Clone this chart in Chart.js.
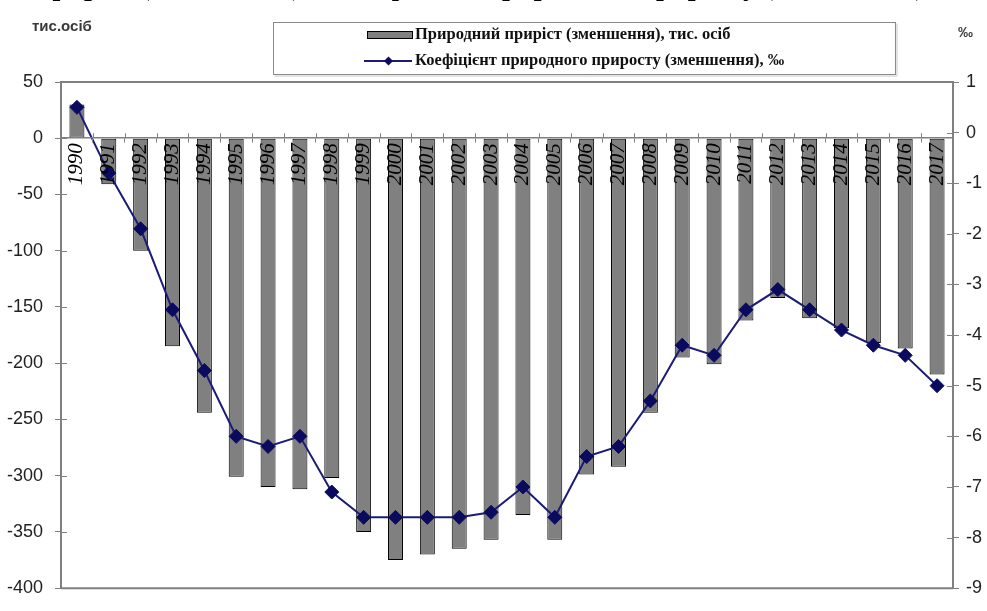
<!DOCTYPE html>
<html>
<head>
<meta charset="utf-8">
<script src="https://cdn.jsdelivr.net/npm/chart.js@4.4.1/dist/chart.umd.min.js"></script>
<style>
html,body{margin:0;padding:0;background:#fff;overflow:hidden}
#wrap{width:987px;height:611px;position:relative}
</style>
</head>
<body>
<div id="wrap"><canvas id="c" width="987" height="611"></canvas></div>
<script>
// ---- data ----
const years = ['1990','1991','1992','1993','1994','1995','1996','1997','1998','1999','2000','2001','2002','2003','2004','2005','2006','2007','2008','2009','2010','2011','2012','2013','2014','2015','2016','2017'];
const naturalIncrease = [30,-41,-100,-185,-244,-301,-310,-312,-302,-350,-375,-370,-365,-357,-335,-357,-299,-292,-244,-195,-201,-162,-142,-160,-169,-182,-187,-210];
const increaseRate = [0.5,-0.8,-1.9,-3.5,-4.7,-6.0,-6.2,-6.0,-7.1,-7.6,-7.6,-7.6,-7.6,-7.5,-7.0,-7.6,-6.4,-6.2,-5.3,-4.2,-4.4,-3.5,-3.1,-3.5,-3.9,-4.2,-4.4,-5.0];
const leftAxisRange = [-400, 50];   // min, max
const leftAxisStep = 50;
const rightAxisRange = [-9, 1];
const rightAxisStep = 1;
const seriesNames = ['Природний приріст (зменшення), тис. осіб', 'Коефіцієнт природного приросту (зменшення), ‰'];
const titleText = 'Природний приріст (зменшення) та коефіцієнт природного приросту (зменшення) населення';
const leftUnit = 'тис.осіб';
const rightUnit = '‰';

const AXIS_GRAY = '#808080';
const LINE_BLUE = '#1c1c78';
const MARK_BLUE = '#0a0a5e';

// ---- decorations: frame, crossing ticks, title, units, legend ----
const decor = {
  id: 'decor',
  beforeDatasetsDraw(chart) {
    const {ctx, chartArea: a} = chart;
    ctx.save();
    ctx.strokeStyle = AXIS_GRAY;
    ctx.lineWidth = 2;
    ctx.beginPath();
    ctx.moveTo(a.left, a.top); ctx.lineTo(a.right, a.top);
    ctx.moveTo(a.left, a.bottom); ctx.lineTo(a.right, a.bottom);
    ctx.stroke();
    // inner halves of axis ticks
    ctx.lineWidth = 1;
    const y = chart.scales.y, y1 = chart.scales.y1;
    ctx.beginPath();
    y.ticks.forEach(t => { const p = Math.round(y.getPixelForValue(t.value)) + 0.5; ctx.moveTo(a.left, p); ctx.lineTo(a.left + 6, p); });
    y1.ticks.forEach(t => { const p = Math.round(y1.getPixelForValue(t.value)) + 0.5; ctx.moveTo(a.right - 6, p); ctx.lineTo(a.right, p); });
    ctx.stroke();
    ctx.restore();
  },
  afterDraw(chart) {
    const {ctx, chartArea: a, scales} = chart;
    ctx.save();
    // upper halves of category ticks on the zero line
    const x = scales.x;
    const y0 = scales.y.getPixelForValue(0);
    ctx.strokeStyle = AXIS_GRAY; ctx.lineWidth = 1;
    ctx.beginPath();
    for (let i = 1; i < years.length; i++) {
      const p = Math.round((x.getPixelForValue(i - 1) + x.getPixelForValue(i)) / 2) + 0.5;
      ctx.moveTo(p, y0 - 5); ctx.lineTo(p, y0);
    }
    ctx.stroke();

    // title (its upper part falls outside the picture, as in the source)
    ctx.fillStyle = '#000';
    ctx.font = 'bold 28px "Liberation Serif"';
    ctx.textAlign = 'center';
    ctx.textBaseline = 'alphabetic';
    ctx.fillText(titleText, chart.width / 2 - 20, -5);

    // axis units
    ctx.font = 'bold 15px "Liberation Sans"';
    ctx.fillStyle = '#3a3a3a';
    ctx.textBaseline = 'middle';
    ctx.textAlign = 'left';
    ctx.fillText(leftUnit, a.left - 29, 27);
    ctx.fillText(rightUnit, a.right + 5, 33);

    // legend box
    const bx = 273.5, by = 22.5, bw = 622, bh = 52;
    ctx.fillStyle = '#fff';
    ctx.fillRect(bx, by, bw, bh);
    ctx.strokeStyle = '#8a8a8a';
    ctx.lineWidth = 1;
    ctx.strokeRect(bx, by, bw, bh);
    ctx.strokeStyle = '#c8c8c8';
    ctx.beginPath();
    ctx.moveTo(bx + 1, by + bh + 1.5); ctx.lineTo(bx + bw + 1.5, by + bh + 1.5); ctx.lineTo(bx + bw + 1.5, by + 1);
    ctx.stroke();

    const ds = chart.data.datasets;
    const r1 = 35, r2 = 61, sx = 367, sw = 45, tx = 415;
    // bar swatch
    ctx.fillStyle = ds[0].backgroundColor;
    ctx.fillRect(sx, r1 - 3, sw, 6);
    ctx.strokeStyle = ds[0].borderColor;
    ctx.strokeRect(sx + 0.5, r1 - 3.5, sw, 7);
    // line swatch
    ctx.strokeStyle = ds[1].borderColor;
    ctx.lineWidth = 2;
    ctx.beginPath(); ctx.moveTo(sx - 3, r2); ctx.lineTo(sx + sw, r2); ctx.stroke();
    ctx.fillStyle = ds[1].pointBackgroundColor;
    ctx.beginPath();
    const cx = sx + sw / 2 - 1, rr = 4.5;
    ctx.moveTo(cx, r2 - rr); ctx.lineTo(cx + rr, r2); ctx.lineTo(cx, r2 + rr); ctx.lineTo(cx - rr, r2); ctx.closePath();
    ctx.fill();
    // legend text
    ctx.fillStyle = '#111';
    ctx.font = 'bold 16.5px "Liberation Serif"';
    ctx.textAlign = 'left';
    ctx.textBaseline = 'middle';
    ctx.fillText(seriesNames[0], tx, r1);
    ctx.fillText(seriesNames[1], tx, r2);
    ctx.restore();
  }
};

new Chart(document.getElementById('c'), {
  type: 'bar',
  data: {
    labels: years,
    datasets: [
      {
        type: 'bar',
        label: seriesNames[0],
        data: naturalIncrease,
        yAxisID: 'y',
        backgroundColor: '#808080',
        borderColor: '#000000',
        borderWidth: 1,
        borderSkipped: false,
        categoryPercentage: 1,
        barPercentage: 0.47,
        order: 2
      },
      {
        type: 'line',
        label: seriesNames[1],
        data: increaseRate,
        yAxisID: 'y1',
        borderColor: LINE_BLUE,
        borderWidth: 2,
        tension: 0,
        pointStyle: 'rectRot',
        pointRadius: 7,
        pointBackgroundColor: MARK_BLUE,
        pointBorderColor: MARK_BLUE,
        pointBorderWidth: 1,
        order: 1
      }
    ]
  },
  options: {
    responsive: false,
    devicePixelRatio: 1,
    animation: false,
    layout: { padding: { top: 82, bottom: 9, left: 0, right: 0 } },
    plugins: { legend: { display: false }, title: { display: false }, tooltip: { enabled: false } },
    scales: {
      x: {
        axis: 'x',
        position: { y: 0 },
        offset: true,
        grid: { drawOnChartArea: false, drawTicks: true, tickLength: 4, color: AXIS_GRAY, offset: true, z: 1 },
        border: { display: true, color: AXIS_GRAY, width: 1.5, z: 1 },
        ticks: {
          z: 1,
          autoSkip: false, maxRotation: 90, minRotation: 90, padding: 1,
          color: '#000',
          font: { family: '"Liberation Serif"', size: 21, style: 'italic' }
        }
      },
      y: {
        position: 'left',
        min: leftAxisRange[0], max: leftAxisRange[1],
        afterFit: s => { s.width = 61; },
        grid: { drawOnChartArea: false, tickLength: 6, color: AXIS_GRAY },
        border: { display: true, color: AXIS_GRAY, width: 2 },
        ticks: { stepSize: leftAxisStep, padding: 12, color: '#222', font: { family: '"Liberation Sans"', size: 18 } }
      },
      y1: {
        position: 'right',
        min: rightAxisRange[0], max: rightAxisRange[1],
        afterFit: s => { s.width = 34; },
        grid: { drawOnChartArea: false, tickLength: 6, color: AXIS_GRAY },
        border: { display: true, color: AXIS_GRAY, width: 2 },
        ticks: { stepSize: rightAxisStep, padding: 7, color: '#222', font: { family: '"Liberation Sans"', size: 18 } }
      }
    }
  },
  plugins: [decor]
});
</script>
</body>
</html>
